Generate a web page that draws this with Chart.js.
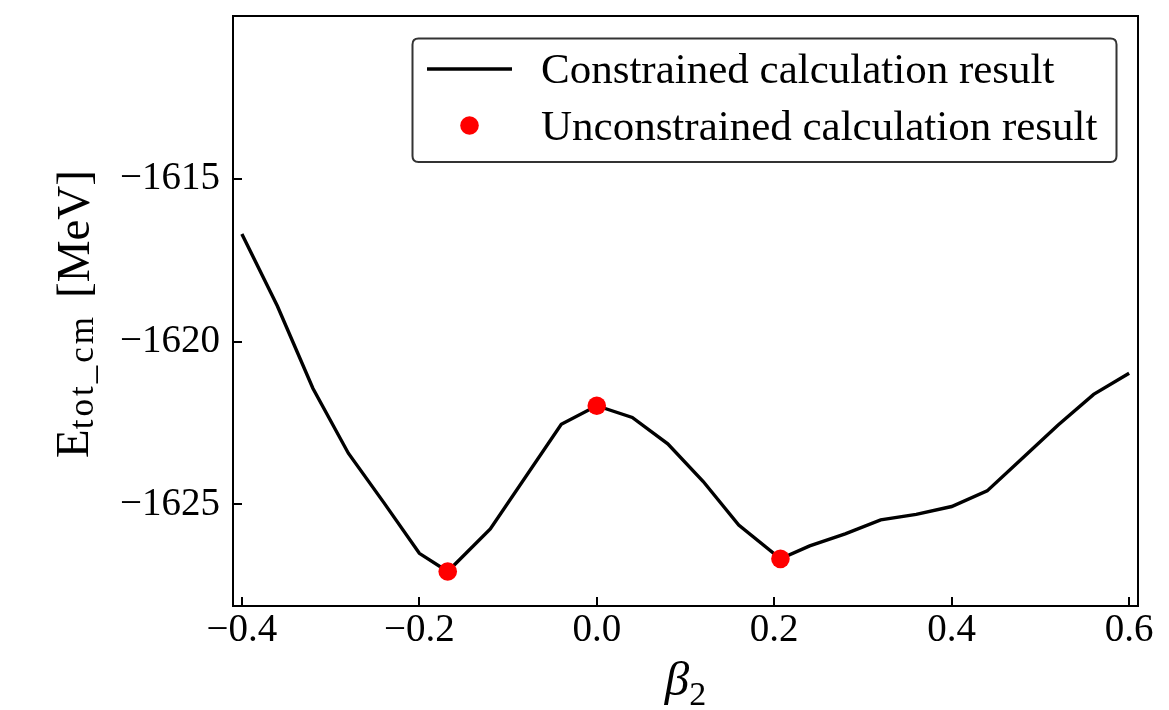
<!DOCTYPE html>
<html>
<head>
<meta charset="utf-8">
<script src="https://cdn.jsdelivr.net/npm/chart.js@4.4.1/dist/chart.umd.min.js"></script>
<style>
  html, body { margin: 0; padding: 0; background: #ffffff; }
  #wrap { width: 1169px; height: 710px; }
</style>
</head>
<body>
<div id="wrap"><canvas id="c" width="1169" height="710"></canvas></div>
<script>
// ---- data ----
const constrainedX = [-0.40, -0.36, -0.32, -0.28, -0.24, -0.20, -0.168, -0.12, -0.04, 0.00, 0.04, 0.08, 0.12, 0.16, 0.207, 0.24, 0.28, 0.32, 0.36, 0.40, 0.44, 0.48, 0.52, 0.56, 0.60];
const constrainedY = [-1616.69, -1618.90, -1621.43, -1623.43, -1624.95, -1626.51, -1627.07, -1625.76, -1622.54, -1621.97, -1622.33, -1623.14, -1624.30, -1625.64, -1626.68, -1626.28, -1625.91, -1625.48, -1625.31, -1625.07, -1624.59, -1623.58, -1622.56, -1621.62, -1620.97];
const unconstrainedX = [-0.168, 0.000, 0.207];
const unconstrainedY = [-1627.07, -1621.97, -1626.68];
const xTickValues = [-0.4, -0.2, 0.0, 0.2, 0.4, 0.6];
const xTickLabels = ["\u22120.4", "\u22120.2", "0.0", "0.2", "0.4", "0.6"];
const yTickValues = [-1615, -1620, -1625];
const yTickLabels = ["\u22121615", "\u22121620", "\u22121625"];
const seriesLabels = ["Constrained calculation result", "Unconstrained calculation result"];

const SERIF = "'Liberation Serif', 'DejaVu Serif', serif";

const pts = (xs, ys) => xs.map((x, i) => ({ x: x, y: ys[i] }));

const framePlugin = {
  id: 'framePlugin',
  afterDraw(chart) {
    const ctx = chart.ctx;
    const a = chart.chartArea;
    const xs = chart.scales.x, ys = chart.scales.y;
    ctx.save();
    // inward ticks
    ctx.strokeStyle = '#000';
    ctx.lineWidth = 2;
    const tl = 9;
    ctx.beginPath();
    xs.ticks.forEach(t => {
      const px = Math.round(xs.getPixelForValue(t.value));
      ctx.moveTo(px, a.bottom);
      ctx.lineTo(px, a.bottom - tl);
    });
    ys.ticks.forEach(t => {
      const py = Math.round(ys.getPixelForValue(t.value));
      ctx.moveTo(a.left, py);
      ctx.lineTo(a.left + tl, py);
    });
    ctx.stroke();
    // frame
    ctx.lineWidth = 2;
    ctx.strokeRect(a.left, a.top, a.right - a.left, a.bottom - a.top);

    // legend
    const bx = 412.5, by = 38.5, bw = 704, bh = 123.5, r = 6;
    ctx.beginPath();
    ctx.moveTo(bx + r, by);
    ctx.lineTo(bx + bw - r, by);
    ctx.quadraticCurveTo(bx + bw, by, bx + bw, by + r);
    ctx.lineTo(bx + bw, by + bh - r);
    ctx.quadraticCurveTo(bx + bw, by + bh, bx + bw - r, by + bh);
    ctx.lineTo(bx + r, by + bh);
    ctx.quadraticCurveTo(bx, by + bh, bx, by + bh - r);
    ctx.lineTo(bx, by + r);
    ctx.quadraticCurveTo(bx, by, bx + r, by);
    ctx.closePath();
    ctx.fillStyle = 'rgba(255,255,255,0.85)';
    ctx.fill();
    ctx.strokeStyle = '#333333';
    ctx.lineWidth = 2;
    ctx.stroke();

    const ds = chart.data.datasets;
    // line sample
    ctx.strokeStyle = ds[1].borderColor;
    ctx.lineWidth = ds[1].borderWidth;
    ctx.beginPath();
    ctx.moveTo(427, 69);
    ctx.lineTo(512, 69);
    ctx.stroke();
    // dot sample
    ctx.fillStyle = ds[0].backgroundColor;
    ctx.beginPath();
    ctx.arc(469.5, 125.5, 9.3, 0, Math.PI * 2);
    ctx.fill();
    ctx.fillStyle = '#000';
    ctx.font = "43px " + SERIF;
    ctx.textBaseline = 'alphabetic';
    ctx.textAlign = 'left';
    ctx.fillText(ds[1].label, 541, 83);
    ctx.fillText(ds[0].label, 541, 140);

    // x axis title: beta_2
    const cx = (a.left + a.right) / 2;
    ctx.font = "italic 49px " + SERIF;
    const wb = ctx.measureText("\u03B2").width;
    ctx.font = "34px " + SERIF;
    const w2 = ctx.measureText("2").width;
    const x0 = cx - (wb + w2) / 2;
    ctx.font = "italic 49px " + SERIF;
    ctx.fillText("\u03B2", x0, 695);
    ctx.font = "34px " + SERIF;
    ctx.fillText("2", x0 + wb, 705);

    // y axis title: E_tot_cm [MeV]
    const cy = 314;
    ctx.font = "47px " + SERIF;
    const wE = ctx.measureText("E").width;
    const wM = ctx.measureText("[MeV]").width;
    ctx.font = "35px " + SERIF;
    ctx.letterSpacing = "3px";
    const wS = ctx.measureText("tot_cm").width;
    ctx.letterSpacing = "0px";
    const gap = 16;
    const W = wE + wS + gap + wM;
    ctx.rotate(-Math.PI / 2);
    let u = -(cy + W / 2);
    ctx.font = "47px " + SERIF;
    ctx.fillText("E", u, 88);
    u += wE;
    ctx.font = "35px " + SERIF;
    ctx.letterSpacing = "3px";
    ctx.fillText("tot_cm", u, 93);
    ctx.letterSpacing = "0px";
    u += wS + gap;
    ctx.font = "47px " + SERIF;
    ctx.fillText("[MeV]", u, 89);
    ctx.restore();
  }
};

new Chart(document.getElementById('c'), {
  type: 'scatter',
  data: {
    datasets: [
      {
        label: seriesLabels[1],
        data: pts(unconstrainedX, unconstrainedY),
        showLine: false,
        pointRadius: 9.3,
        pointHoverRadius: 9.3,
        backgroundColor: '#ff0000',
        borderWidth: 0,
        order: 0
      },
      {
        label: seriesLabels[0],
        data: pts(constrainedX, constrainedY),
        showLine: true,
        pointRadius: 0,
        borderColor: '#000000',
        borderWidth: 3.4,
        tension: 0,
        fill: false,
        order: 1
      }
    ]
  },
  options: {
    responsive: false,
    devicePixelRatio: 1,
    animation: false,
    layout: { padding: { left: 0, right: 31, top: 16, bottom: 0 } },
    plugins: { legend: { display: false }, tooltip: { enabled: false } },
    scales: {
      x: {
        type: 'linear',
        min: -0.41,
        max: 0.61,
        afterBuildTicks: s => { s.ticks = xTickValues.map(v => ({ value: v })); },
        afterFit: s => { s.height = 104; s.paddingLeft = 0; s.paddingRight = 0; s.paddingTop = 0; s.paddingBottom = 0; },
        grid: { display: false, drawTicks: false },
        border: { display: false },
        ticks: {
          color: '#000',
          font: { family: SERIF, size: 39 },
          padding: 1,
          maxRotation: 0,
          autoSkip: false,
          callback: (v, i) => xTickLabels[i]
        }
      },
      y: {
        type: 'linear',
        min: -1628.13,
        max: -1609.98,
        afterBuildTicks: s => { s.ticks = yTickValues.map(v => ({ value: v })); },
        afterFit: s => { s.width = 233; s.paddingLeft = 0; s.paddingRight = 0; s.paddingTop = 0; s.paddingBottom = 0; },
        grid: { display: false, drawTicks: false },
        border: { display: false },
        ticks: {
          color: '#000',
          font: { family: SERIF, size: 39 },
          padding: 13,
          autoSkip: false,
          callback: (v, i) => yTickLabels[i]
        }
      }
    }
  },
  plugins: [framePlugin]
});
</script>
</body>
</html>
